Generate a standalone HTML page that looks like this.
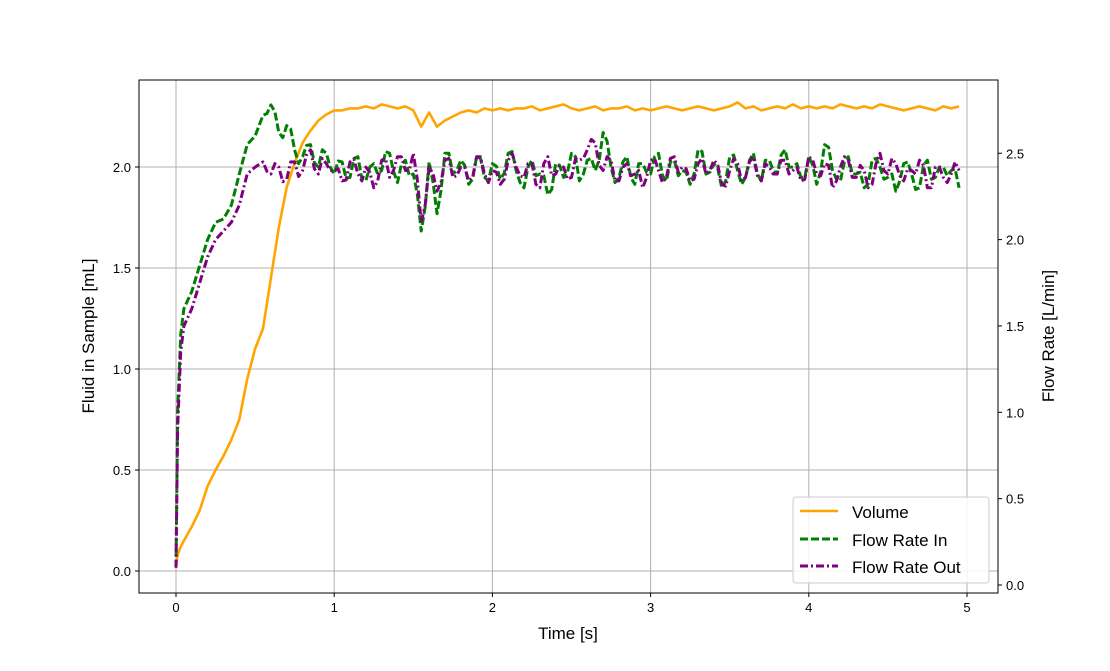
<!DOCTYPE html>
<html><head><meta charset="utf-8"><style>
html,body{margin:0;padding:0;background:#fff;}
svg text{font-family:"Liberation Sans","DejaVu Sans",sans-serif;}
</style></head><body>
<svg id="chart" width="1110" height="666" xmlns="http://www.w3.org/2000/svg"></svg>
<script>
const times=[0,0.01,0.03,0.05,0.1,0.15,0.2,0.25,0.3,0.35,0.4,0.45,0.5,0.55,0.6,0.65,0.7,0.75,0.8,0.85,0.9,0.95,1.0,1.05,1.1,1.15,1.2,1.25,1.3,1.35,1.4,1.45,1.5,1.55,1.6,1.65,1.7,1.75,1.8,1.85,1.9,1.95,2.0,2.05,2.1,2.15,2.2,2.25,2.3,2.35,2.4,2.45,2.5,2.55,2.6,2.65,2.7,2.75,2.8,2.85,2.9,2.95,3.0,3.05,3.1,3.15,3.2,3.25,3.3,3.35,3.4,3.45,3.5,3.55,3.6,3.65,3.7,3.75,3.8,3.85,3.9,3.95,4.0,4.05,4.1,4.15,4.2,4.25,4.3,4.35,4.4,4.45,4.5,4.55,4.6,4.65,4.7,4.75,4.8,4.85,4.9,4.95];
const volume=[0.02,0.08,0.12,0.15,0.22,0.3,0.42,0.5,0.57,0.65,0.75,0.95,1.1,1.2,1.45,1.7,1.9,2.02,2.12,2.18,2.23,2.26,2.28,2.28,2.29,2.29,2.30,2.29,2.31,2.30,2.29,2.30,2.28,2.20,2.27,2.20,2.23,2.25,2.27,2.28,2.27,2.29,2.28,2.29,2.28,2.29,2.29,2.30,2.28,2.29,2.30,2.31,2.29,2.28,2.29,2.30,2.28,2.29,2.29,2.30,2.28,2.29,2.28,2.29,2.30,2.29,2.28,2.29,2.30,2.29,2.28,2.29,2.30,2.32,2.29,2.30,2.28,2.29,2.30,2.29,2.31,2.29,2.30,2.29,2.30,2.29,2.31,2.30,2.29,2.30,2.29,2.31,2.30,2.29,2.28,2.29,2.30,2.29,2.28,2.30,2.29,2.30];
const flowIn=[0.1,1.0,1.45,1.6,1.7,1.85,2.0,2.1,2.12,2.2,2.38,2.55,2.6,2.72,2.78,2.62,2.66,2.52,2.48,2.55,2.42,2.5,2.38,2.45,2.36,2.48,2.34,2.44,2.40,2.5,2.33,2.46,2.38,2.05,2.45,2.15,2.5,2.38,2.46,2.32,2.48,2.36,2.44,2.35,2.5,2.40,2.30,2.46,2.38,2.26,2.44,2.36,2.50,2.34,2.46,2.40,2.62,2.42,2.36,2.48,2.32,2.44,2.38,2.5,2.34,2.46,2.40,2.32,2.52,2.38,2.44,2.30,2.48,2.40,2.36,2.50,2.34,2.46,2.38,2.52,2.42,2.36,2.48,2.32,2.55,2.40,2.34,2.48,2.38,2.30,2.46,2.42,2.36,2.28,2.44,2.38,2.30,2.46,2.36,2.42,2.40,2.30];
const flowOut=[0.1,0.9,1.35,1.5,1.6,1.75,1.9,2.0,2.05,2.1,2.2,2.38,2.42,2.45,2.38,2.42,2.35,2.45,2.40,2.52,2.38,2.44,2.40,2.34,2.45,2.38,2.42,2.30,2.46,2.36,2.48,2.40,2.50,2.10,2.42,2.28,2.46,2.36,2.42,2.34,2.48,2.38,2.40,2.32,2.46,2.42,2.36,2.44,2.30,2.48,2.38,2.42,2.36,2.46,2.52,2.56,2.40,2.46,2.34,2.44,2.38,2.30,2.46,2.40,2.36,2.48,2.42,2.34,2.44,2.38,2.46,2.32,2.40,2.44,2.36,2.48,2.34,2.42,2.38,2.46,2.40,2.34,2.48,2.38,2.44,2.30,2.42,2.46,2.36,2.40,2.32,2.50,2.38,2.44,2.34,2.40,2.46,2.30,2.42,2.36,2.38,2.40];
const xTicks=[0,1,2,3,4,5];
const yLeftTicks=[0,0.5,1.0,1.5,2.0];
const yRightTicks=[0,0.5,1.0,1.5,2.0,2.5];

const svg=document.getElementById('chart');
const NS='http://www.w3.org/2000/svg';
function mk(tag,attrs,parent){const e=document.createElementNS(NS,tag);for(const k in attrs)e.setAttribute(k,attrs[k]);(parent||svg).appendChild(e);return e;}
const L=139,R=998,T=80,B=593;
const xs=t=>176+t*158.2;
const yl=v=>571-v*202;
const yr=v=>585-v*172.7;

xTicks.forEach(t=>{const g=mk('line',{x1:xs(t),x2:xs(t),y1:T,y2:B,stroke:'#b0b0b0','stroke-width':1});
});
yLeftTicks.forEach(v=>{const g=mk('line',{x1:L,x2:R,y1:yl(v),y2:yl(v),stroke:'#b0b0b0','stroke-width':1});
});

const jit=[0.05,-0.06,0.03,-0.04,0.06,-0.02,0.04,-0.05];
function series(vals,yf,color,dash,name,w,dense){
  let pts=[];
  vals.forEach((v,i)=>{
    pts.push([xs(times[i]),yf(v)]);
    if(dense&&i<vals.length-1&&times[i]>=0.55){
      const m=(v+vals[i+1])/2+jit[i%jit.length];
      pts.push([xs((times[i]+times[i+1])/2),yf(m)]);
    }
  });
  const d=pts.map((p,i)=>(i?'L':'M')+p[0].toFixed(1)+','+p[1].toFixed(1)).join(' ');
  const p=mk('path',{d:d,fill:'none',stroke:color,'stroke-width':w,'stroke-dasharray':dash||'none','stroke-linejoin':'round'});
  
  
}
series(volume,yl,'#ffa500',null,'volume-line',2.6,false);
series(flowIn,yr,'#008000','8,3','flow-rate-in-line',3,true);
series(flowOut,yr,'#800080','8,3,2,3','flow-rate-out-line',3,true);

const frame=mk('rect',{x:L,y:T,width:R-L,height:B-T,fill:'none',stroke:'#000','stroke-width':1});


xTicks.forEach(t=>{mk('line',{x1:xs(t),x2:xs(t),y1:B,y2:B+4,stroke:'#000'});
const tx=mk('text',{x:xs(t),y:B+19,'font-size':13,'text-anchor':'middle'});tx.textContent=t;
});
yLeftTicks.forEach(v=>{mk('line',{x1:L-4,x2:L,y1:yl(v),y2:yl(v),stroke:'#000'});
const tx=mk('text',{x:L-8,y:yl(v)+5,'font-size':13,'text-anchor':'end'});tx.textContent=v.toFixed(1);
});
yRightTicks.forEach(v=>{mk('line',{x1:R,x2:R+4,y1:yr(v),y2:yr(v),stroke:'#000'});
const tx=mk('text',{x:R+8,y:yr(v)+5,'font-size':13,'text-anchor':'start'});tx.textContent=v.toFixed(1);
});
</script>
<svg style="position:absolute;left:0;top:0" width="1110" height="666">
<text x="568" y="639" font-size="17" text-anchor="middle">Time [s]</text>
<text transform="translate(94,336) rotate(-90)" font-size="17" text-anchor="middle">Fluid in Sample [mL]</text>
<text transform="translate(1054,336) rotate(-90)" font-size="17" text-anchor="middle">Flow Rate [L/min]</text>
<g>
<rect x="793" y="497" width="196" height="86" rx="3" fill="#fff" fill-opacity="0.85" stroke="#ccc"/>
<line x1="800" x2="838" y1="511" y2="511" stroke="#ffa500" stroke-width="2.5"/>
<text x="852" y="518" font-size="17">Volume</text>
<line x1="800" x2="838" y1="539" y2="539" stroke="#008000" stroke-width="3" stroke-dasharray="8,3"/>
<text x="852" y="546" font-size="17">Flow Rate In</text>
<line x1="800" x2="838" y1="566" y2="566" stroke="#800080" stroke-width="3" stroke-dasharray="8,3,2,3"/>
<text x="852" y="573" font-size="17">Flow Rate Out</text>
</g>
</svg>
</body></html>
